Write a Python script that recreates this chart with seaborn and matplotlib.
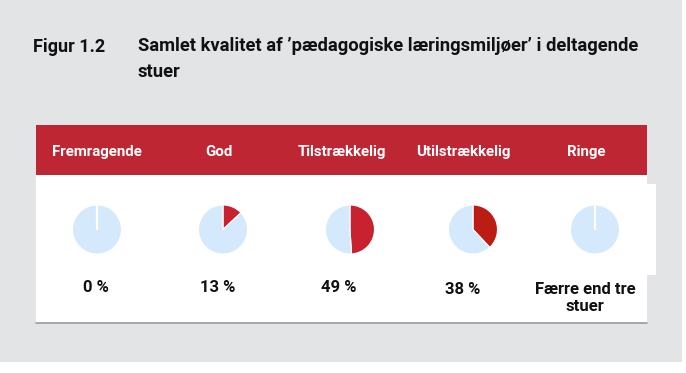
import matplotlib
matplotlib.use("Agg")
import matplotlib.pyplot as plt
import seaborn as sns
from matplotlib.patches import Rectangle
from matplotlib.lines import Line2D

# ---- data ----
categories = ["Fremragende", "God", "Tilstrækkelig", "Utilstrækkelig", "Ringe"]
shares = [0, 13, 49, 38, 0]
value_labels = ["0 %", "13 %", "49 %", "38 %", "Færre end tre\nstuer"]
fig_label = "Figur 1.2"
title = "Samlet kvalitet af \u2019pædagogiske læringsmiljøer\u2019 i deltagende\nstuer"

# ---- styles ----
BG = "#e3e4e6"
HEADER = "#be2633"
LIGHT = "#d4e9fc"
slice_colors = ["#c8212f", "#c8212f", "#c8212f", "#bb1d14", "#c8212f"]

sns.set_theme(style="white")
plt.rcParams["font.family"] = ["Roboto", "DejaVu Sans"]

W, H = 686, 373
fig = plt.figure(figsize=(W / 100, H / 100), dpi=100)
fig.patch.set_facecolor("white")


def fx(x):
    return x / W


def fy(y):
    return 1 - y / H


def rect(x0, y0, x1, y1, color, z=-5):
    fig.patches.append(Rectangle((fx(x0), fy(y1)), fx(x1) - fx(x0), fy(y0) - fy(y1),
                                 transform=fig.transFigure, facecolor=color,
                                 edgecolor="none", zorder=z))


# background panels
rect(0, 0, 682, 362, BG, -10)
rect(35.5, 125, 647, 175, HEADER, -5)
rect(35.5, 175, 647, 323, "white", -5)
rect(647, 184, 656, 275, "white", -5)
fig.lines.append(Line2D([fx(35.5), fx(647)], [fy(323), fy(323)], transform=fig.transFigure,
                        color="#9a9a9a", lw=1.2, zorder=-4))

# title
fig.text(fx(33), fy(47), fig_label, fontsize=13, fontweight="bold", color="#111111",
         va="center", ha="left")
fig.text(fx(138), fy(37), title, fontsize=13.2, fontweight="bold", color="#111111",
         va="top", ha="left", linespacing=1.6)

header_x = [97, 219, 342, 463, 586]
pie_x = [97, 223, 350, 473, 595]
label_x = [96, 218, 339, 463, 585]
pie_y = 229.5
r = 25

for i, cat in enumerate(categories):
    fig.text(fx(header_x[i]), fy(152), cat, fontsize=10.8, fontweight="bold",
             color="white", ha="center", va="center")
    ax = fig.add_axes([fx(pie_x[i] - r), fy(pie_y + r), fx(2 * r), fx(2 * r) * W / H])
    ax.set_zorder(5)
    wedges, _ = ax.pie([shares[i], 100 - shares[i]], colors=[slice_colors[i], LIGHT],
                       startangle=90, counterclock=False,
                       wedgeprops=dict(edgecolor="white", linewidth=0.8))
    if shares[i] == 0:
        # the empty slice leaves only its white start edge visible
        ax.plot([0, 0], [0, 1], color="white", lw=1.6, solid_capstyle="butt")
    ax.set_xlim(-1.02, 1.02)
    ax.set_ylim(-1.02, 1.02)
    ax.set_aspect("equal")
    ax.axis("off")
    if i < 4:
        ly = 288 if i < 3 else 290
        fig.text(fx(label_x[i]), fy(ly), value_labels[i], fontsize=12, fontweight="bold",
                 color="#111111", ha="center", va="center")
    else:
        fig.text(fx(label_x[i]), fy(282.5), value_labels[i], fontsize=12, fontweight="bold",
                 color="#111111", ha="center", va="top", linespacing=1.15)

fig.savefig("out.png", dpi=100)
